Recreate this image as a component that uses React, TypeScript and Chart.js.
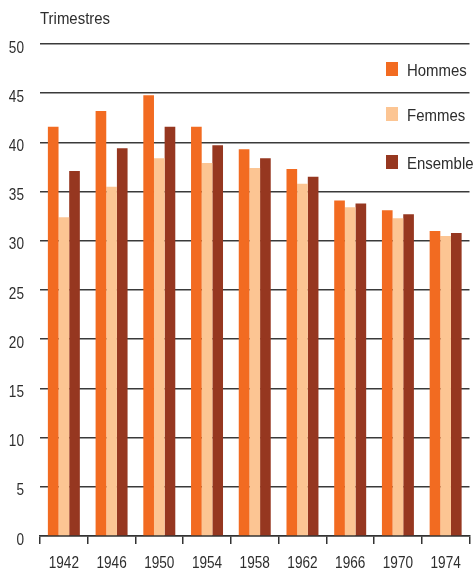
import React, { useEffect, useRef } from "react";
import { Chart, registerables } from "chart.js";

Chart.register(...registerables);

const categories = ["1942", "1946", "1950", "1954", "1958", "1962", "1966", "1970", "1974"];
const hommes = [41.6, 43.2, 44.8, 41.6, 39.3, 37.3, 34.1, 33.1, 31.0];
const femmes = [32.4, 35.5, 38.4, 37.9, 37.4, 35.8, 33.4, 32.3, 30.5];
const ensemble = [37.1, 39.4, 41.6, 39.7, 38.4, 36.5, 33.8, 32.7, 30.8];
const seriesLabels = ["Hommes", "Femmes", "Ensemble"];
const yTitle = "Trimestres";

const COLORS = ["#F26B21", "#FCC593", "#963720"];
const FONT_FAMILY = '"Liberation Sans", Arial, sans-serif';
const FONT_SIZE = 17;
const TEXT = "#2e2e2e";

// Narrow-type rendering: draw text horizontally compressed around its anchor.
function narrowText(ctx: CanvasRenderingContext2D) {
  const orig = ctx.fillText.bind(ctx);
  (ctx as any).fillText = (text: string, x: number, y: number, maxWidth?: number) => {
    const sx = /^[\d\s.,-]+$/.test(String(text)) ? 0.8 : 0.88;
    ctx.save();
    ctx.translate(x, y);
    ctx.scale(sx, 1);
    if (maxWidth !== undefined) orig(text, 0, 0, maxWidth / sx);
    else orig(text, 0, 0);
    ctx.restore();
  };
}

const overlayPlugin = {
  id: "overlay",
  afterDraw(chart: any) {
    const ctx = chart.ctx;
    ctx.save();
    ctx.font = `${FONT_SIZE}px ${FONT_FAMILY}`;
    ctx.fillStyle = TEXT;
    ctx.textBaseline = "alphabetic";
    ctx.textAlign = "left";
    ctx.fillText(yTitle, chart.chartArea.left, 24);
    const legendTop = [62, 107, 155];
    chart.data.datasets.forEach((ds: any, i: number) => {
      ctx.fillStyle = ds.backgroundColor;
      ctx.fillRect(386, legendTop[i], 12, 14);
      ctx.fillStyle = TEXT;
      ctx.fillText(ds.label, 407, legendTop[i] + 14);
    });
    ctx.restore();
  },
};

export default function App() {
  const ref = useRef<HTMLCanvasElement | null>(null);
  useEffect(() => {
    document.body.style.margin = "0";
    const canvas = ref.current!;
    const ctx2d = canvas.getContext("2d")!;
    narrowText(ctx2d);
    const chart = new Chart(ctx2d, {
      type: "bar",
      data: {
        labels: categories,
        datasets: [hommes, femmes, ensemble].map((d, i) => ({
          label: seriesLabels[i],
          data: d,
          backgroundColor: COLORS[i],
          borderWidth: 0,
          categoryPercentage: 0.67,
          barPercentage: 1.0,
        })),
      },
      options: {
        animation: false,
        responsive: false,
        maintainAspectRatio: false,
        layout: { padding: { top: 44, right: 4.5, left: 0, bottom: 0 } },
        plugins: {
          legend: { display: false },
          title: { display: false },
          tooltip: { enabled: false },
        },
        scales: {
          x: {
            grid: {
              offset: true,
              drawOnChartArea: false,
              drawTicks: true,
              tickLength: 8,
              color: "#333",
              lineWidth: 1.5,
            },
            border: { display: true, color: "#333", width: 1.5 },
            ticks: {
              color: TEXT,
              font: { family: FONT_FAMILY, size: FONT_SIZE },
              padding: 9,
              maxRotation: 0,
            },
            afterFit(scale: any) {
              scale.height = 32;
            },
          },
          y: {
            min: 0,
            max: 50,
            ticks: {
              stepSize: 5,
              color: TEXT,
              font: { family: FONT_FAMILY, size: FONT_SIZE },
              padding: 16,
              labelOffset: 4,
            },
            grid: {
              drawTicks: false,
              color: "#3a3a3a",
              lineWidth: 1.5,
            },
            border: { display: false },
            afterFit(scale: any) {
              scale.width = 40;
            },
          },
        },
      },
      plugins: [overlayPlugin],
    });
    return () => chart.destroy();
  }, []);
  return (
    <div style={{ width: 474, height: 568, position: "relative" }}>
      <canvas ref={ref} width={474} height={568} style={{ display: "block" }} />
    </div>
  );
}
